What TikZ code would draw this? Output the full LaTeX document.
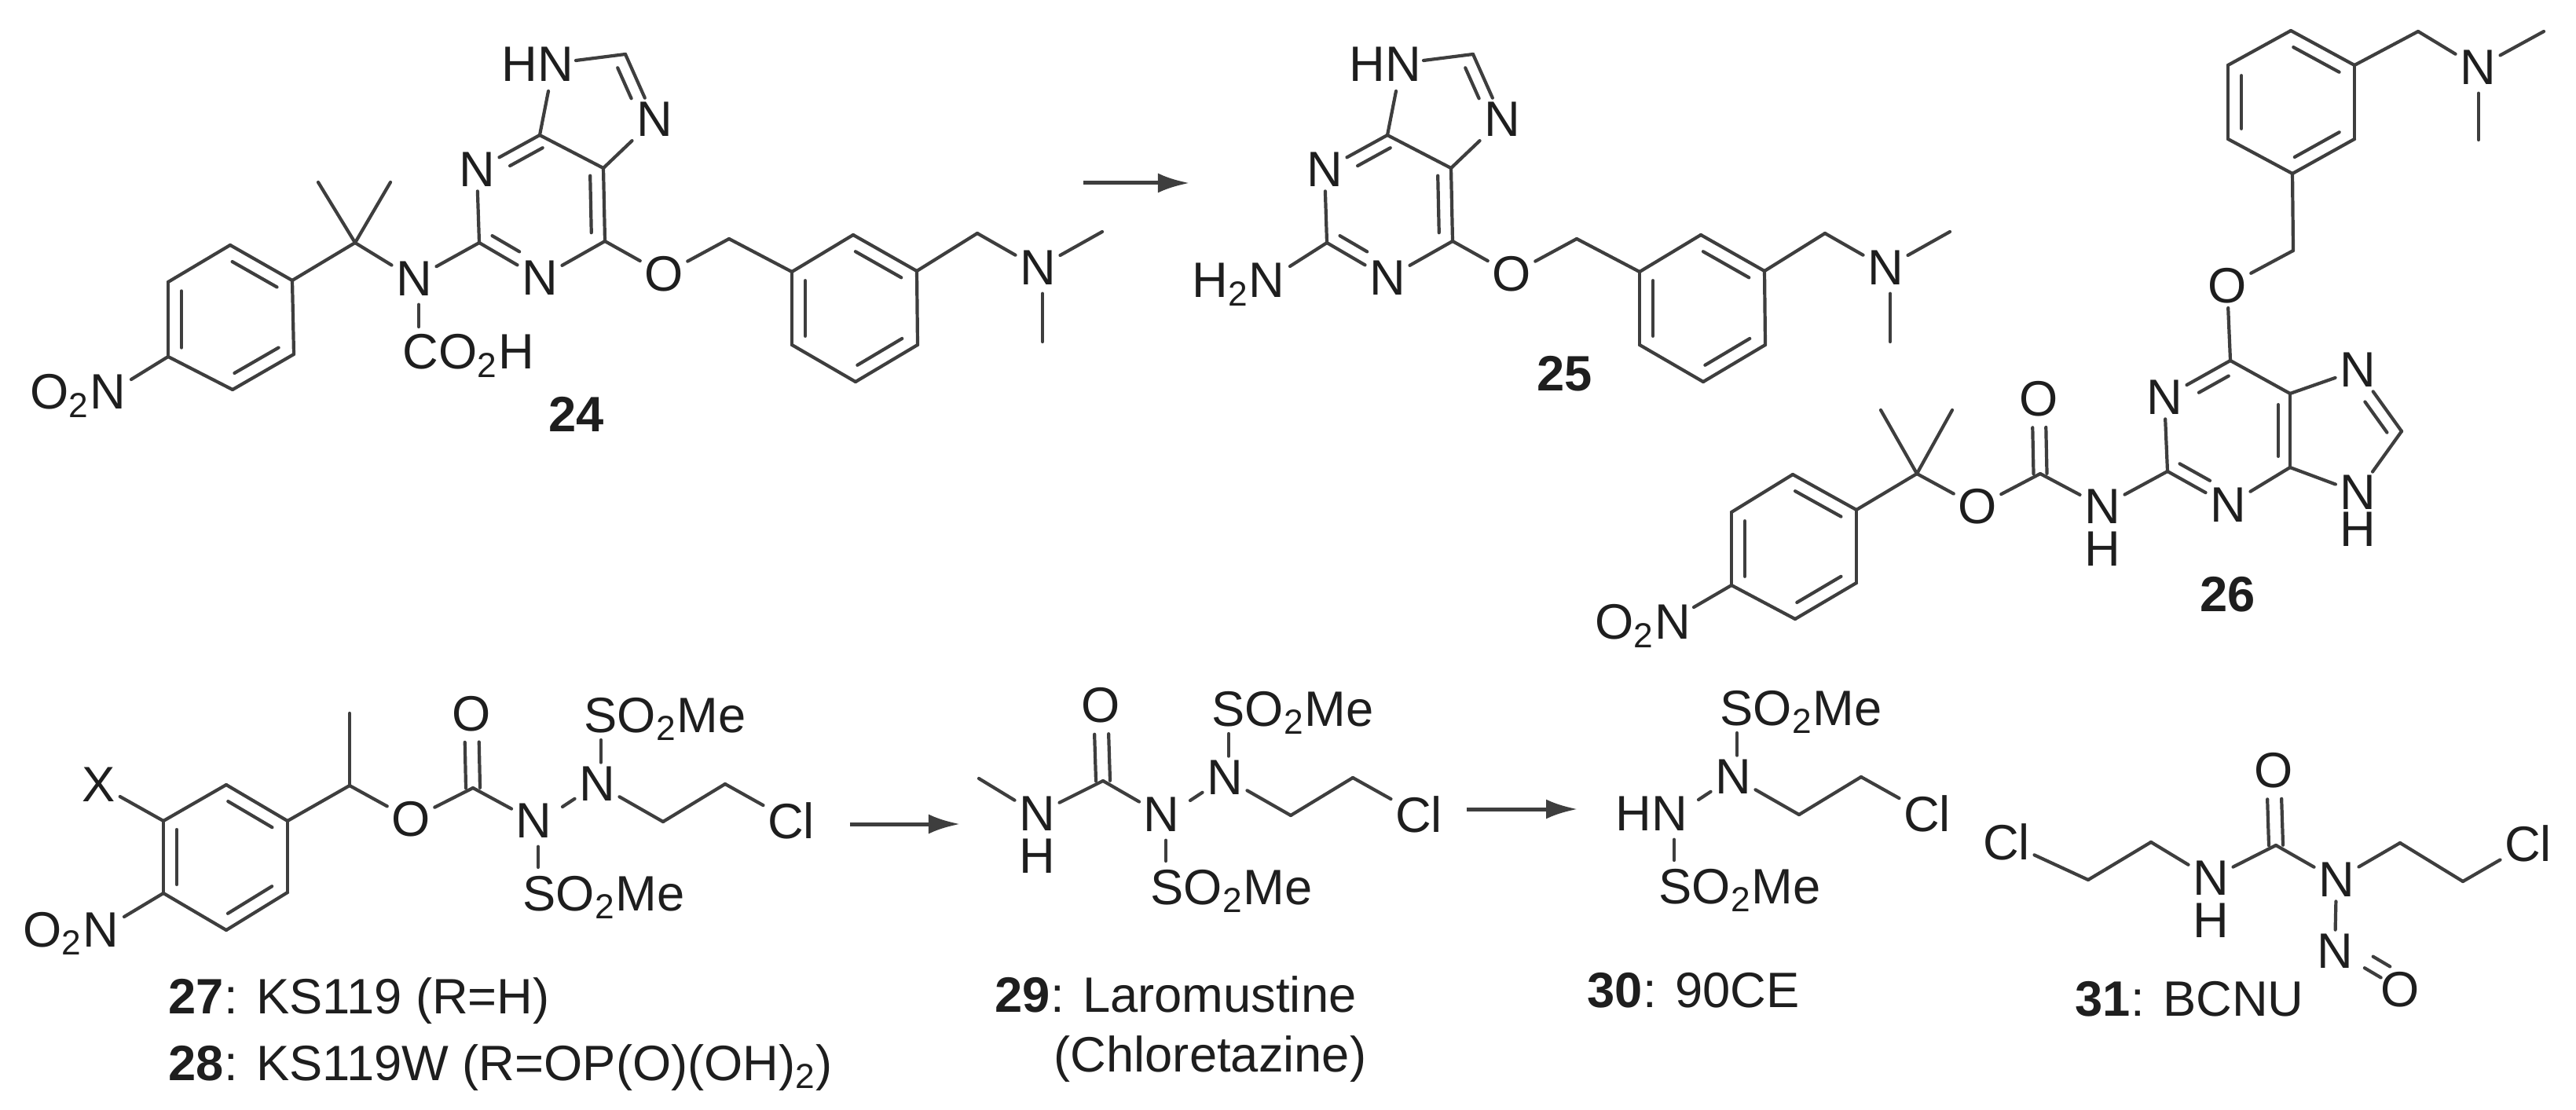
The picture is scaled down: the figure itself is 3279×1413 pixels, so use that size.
\documentclass[tikz,border=0pt]{standalone}
\usepackage{fontspec}
\setmainfont{Liberation Sans}
\usetikzlibrary{calc,arrows.meta}
\definecolor{bondgray}{RGB}{62,62,62}
\definecolor{inkgray}{RGB}{30,30,30}

\newcommand{\dbl}[5]{\draw[bond] ($(#1)!#3!(#2)!#5!90:(#2)$) -- ($(#1)!#4!(#2)!#5!90:(#2)$);}

\newcommand{\purinearm}{
	\coordinate(C2) at (610,309);
	\coordinate(C4) at (687,172);
	\coordinate(C5) at (768,214);
	\coordinate(C6) at (770,307);
	\coordinate(C8) at (796,69);
	\coordinate(CH2) at (928,304);
	\coordinate(Ra) at (1008,346);
	\coordinate(Rb) at (1086,299);
	\coordinate(Rc) at (1167,345);
	\coordinate(Rd) at (1168,439);
	\coordinate(Re) at (1089,486);
	\coordinate(Rf) at (1008,439);
	\coordinate(CH2n) at (1244,297);
	\coordinate(MeA) at (1403,295);
	\coordinate(MeB) at (1327,435);
	\coordinate(HNa) at (698,116);
	\coordinate(HNb) at (733,77);
	\node(N1) [atom] at (607,216) {N};
	\node(N3) [atom] at (687,354) {N};
	\node(N7) [atom] at (833,152) {N};
	\node(HN) [txt] at (638,104) {HN};
	\node(Oe) [atom] at (845,349) {O};
	\node(NM) [atom] at (1321,341) {N};

	\draw[bond](C2) -- (N1);
	\draw[bond](C2) -- (N3);
	\dbl{C2}{N3}{.11}{.56}{.16cm}
	\draw[bond](N3) -- (C6);
	\draw[bond](C6) -- (C5);
	\dbl{C6}{C5}{.12}{.9}{.17cm}
	\draw[bond](C5) -- (C4);
	\draw[bond](C4) -- (N1);
	\dbl{C4}{N1}{.05}{.57}{.16cm}
	\draw[bond](C4) -- (HNa);
	\draw[bond](HNb) -- (C8);
	\draw[bond](C8) -- (N7);
	\dbl{C8}{N7}{.13}{.6}{-.16cm}
	\draw[bond](N7) -- (C5);
	\draw[bond](C6) -- (Oe);
	\draw[bond](Oe) -- (CH2);
	\draw[bond](CH2) -- (Ra);
	\draw[bond](Ra) -- (Rb);
	\draw[bond](Rb) -- (Rc);
	\draw[bond](Rc) -- (Rd);
	\draw[bond](Rd) -- (Re);
	\draw[bond](Re) -- (Rf);
	\draw[bond](Rf) -- (Ra);
	\dbl{Rb}{Rc}{.14}{.86}{-.17cm}
	\dbl{Rd}{Re}{.14}{.86}{-.17cm}
	\dbl{Rf}{Ra}{.12}{.88}{-.17cm}
	\draw[bond](Rc) -- (CH2n);
	\draw[bond](CH2n) -- (NM);
	\draw[bond](NM) -- (MeA);
	\draw[bond,shorten <=1.5pt](NM.south -| MeB) -- (MeB);
}

\newcommand{\sulfochain}[1]{
	\coordinate(NNa) at (36,-18);
	\coordinate(Sa) at (85,-103);
	\coordinate(Sb) at (5,59);
	\coordinate(Ca) at (164,1);
	\coordinate(Cb) at (243,-47);
	\node(N1) [atom,anchor=east] at (28,0) {#1};
	\node(N2) [atom] at (80,-47) {N};
	\node(Cl) [atom] at (327,0) {Cl};
	\node(SOa) [txt] at (63,-113) {SO\textsubscript{2}Me};
	\node(SOb) [txt] at (-15,114) {SO\textsubscript{2}Me};

	\draw[bond](NNa) -- (N2);
	\draw[bond](N2.north -| Sa) -- (Sa);
	\draw[bond,shorten <=1.5pt](N1.south -| Sb) -- (Sb);
	\draw[bond](N2) -- (Ca);
	\draw[bond](Ca) -- (Cb);
	\draw[bond](Cb) -- (Cl);
}

\begin{document}
\begin{tikzpicture}[x=.01cm,y=-.01cm,node distance=.54cm,
	atom/.style={font=\fontsize{18}{20}\selectfont,text=inkgray,inner sep=1.4pt},
	hatom/.style={atom,inner sep=0pt},
	txt/.style={font=\fontsize{18}{20}\selectfont,text=inkgray,inner sep=0pt,anchor=base west},
	bond/.style={draw=bondgray,line width=.042cm,line cap=round},
	rxn/.style={draw=bondgray,line width=.05cm,-{Latex[length=.4cm,width=.25cm]}}]
	\useasboundingbox (0,0) rectangle (3279,1413);

	\begin{scope}[name prefix=a-]
		\purinearm
	\end{scope}
	\begin{scope}[shift={(1079,0)},name prefix=b-]
		\purinearm
	\end{scope}

	\coordinate(Pa) at (293,312);
	\coordinate(Pb) at (372,357);
	\coordinate(Pc) at (374,451);
	\coordinate(Pd) at (296,496);
	\coordinate(Pe) at (214,454);
	\coordinate(Pf) at (214,359);
	\coordinate(Cq) at (452,309);
	\coordinate(Mq) at (405,232);
	\coordinate(Mr) at (497,232);
	\coordinate(NOa) at (167,483);
	\coordinate(COa) at (533,416);
	\coordinate(NHb) at (1642,339);
	\coordinate(ArA) at (1379,233);
	\coordinate(ArB) at (1514,233);
	\node(Nc) [atom] at (527,355) {N};
	\node(CO2H) [txt] at (512,470) {CO\textsubscript{2}H};
	\node(O2Na) [txt] at (38,521) {O\textsubscript{2}N};
	\node(H2N) [txt] at (1517,379) {H\textsubscript{2}N};
	\node(L24) [txt] at (698,550) {\textbf{24}};
	\node(L25) [txt] at (1956,498) {\textbf{25}};

	\draw[bond](Pa) -- (Pb);
	\draw[bond](Pb) -- (Pc);
	\draw[bond](Pc) -- (Pd);
	\draw[bond](Pd) -- (Pe);
	\draw[bond](Pe) -- (Pf);
	\draw[bond](Pf) -- (Pa);
	\dbl{Pa}{Pb}{.14}{.86}{-.17cm}
	\dbl{Pc}{Pd}{.14}{.86}{-.17cm}
	\dbl{Pe}{Pf}{.12}{.88}{-.17cm}
	\draw[bond](Pe) -- (NOa);
	\draw[bond](Pb) -- (Cq);
	\draw[bond](Cq) -- (Mq);
	\draw[bond](Cq) -- (Mr);
	\draw[bond](Cq) -- (Nc);
	\draw[bond](Nc) -- (a-C2);
	\draw[bond,shorten <=1.5pt](Nc.south -| COa) -- (COa);
	\draw[bond](b-C2) -- (NHb);
	\draw[rxn](ArA) -- (ArB);

	\coordinate(Qa) at (2282,604);
	\coordinate(Qb) at (2363,649);
	\coordinate(Qc) at (2363,742);
	\coordinate(Qd) at (2285,788);
	\coordinate(Qe) at (2204,745);
	\coordinate(Qf) at (2204,652);
	\coordinate(Dq) at (2440,603);
	\coordinate(Dm) at (2394,522);
	\coordinate(Dn) at (2485,522);
	\coordinate(Dc) at (2597,603);
	\coordinate(Gb) at (2759,600);
	\coordinate(Gf) at (2839,459);
	\coordinate(Ge) at (2915,501);
	\coordinate(Gd) at (2915,595);
	\coordinate(Gh) at (3057,549);
	\coordinate(CH2o) at (2919,319);
	\coordinate(Ua) at (2918,221);
	\coordinate(Ub) at (2997,177);
	\coordinate(Uc) at (2997,83);
	\coordinate(Ud) at (2916,39);
	\coordinate(Ue) at (2836,83);
	\coordinate(Uf) at (2836,177);
	\coordinate(CH2m) at (3078,40);
	\coordinate(Va) at (3238,40);
	\coordinate(Vb) at (3155,178);
	\coordinate(NOb) at (2156,773);
	\node(O2Nb) [txt] at (2030,814) {O\textsubscript{2}N};
	\node(Oc) [atom] at (2517,645) {O};
	\node(Od) [atom] at (2595,508) {O};
	\node(Nh) [atom] at (2676,645) {N};
	\node(Hh) [hatom,below of=Nh] {H};
	\node(Gn1) [atom] at (2755,506) {N};
	\node(Gn3) [atom] at (2836,643) {N};
	\node(Gn7) [atom] at (3001,471) {N};
	\node(Gn9) [hatom] at (3001,627) {N};
	\node(Hg) [hatom,below of=Gn9,node distance=.47cm] {H};
	\node(Og) [atom] at (2835,364) {O};
	\node(Nu) [atom] at (3154,86) {N};
	\node(L26) [txt] at (2800,778) {\textbf{26}};

	\draw[bond](Qa) -- (Qb);
	\draw[bond](Qb) -- (Qc);
	\draw[bond](Qc) -- (Qd);
	\draw[bond](Qd) -- (Qe);
	\draw[bond](Qe) -- (Qf);
	\draw[bond](Qf) -- (Qa);
	\dbl{Qa}{Qb}{.14}{.86}{-.17cm}
	\dbl{Qc}{Qd}{.14}{.86}{-.17cm}
	\dbl{Qe}{Qf}{.12}{.88}{-.17cm}
	\draw[bond](Qe) -- (NOb);
	\draw[bond](Qb) -- (Dq);
	\draw[bond](Dq) -- (Dm);
	\draw[bond](Dq) -- (Dn);
	\draw[bond](Dq) -- (Oc);
	\draw[bond](Oc) -- (Dc);
	\dbl{Dc}{Od}{.0}{.62}{.085cm}
	\dbl{Dc}{Od}{.0}{.62}{-.085cm}
	\draw[bond](Dc) -- (Nh);
	\draw[bond](Nh) -- (Gb);
	\draw[bond](Gb) -- (Gn3);
	\dbl{Gb}{Gn3}{.1}{.6}{.16cm}
	\draw[bond](Gn3) -- (Gd);
	\draw[bond](Gd) -- (Ge);
	\dbl{Gd}{Ge}{.15}{.85}{.15cm}
	\draw[bond](Ge) -- (Gf);
	\draw[bond](Gf) -- (Gn1);
	\dbl{Gf}{Gn1}{.12}{.57}{.16cm}
	\draw[bond](Gn1) -- (Gb);
	\draw[bond](Ge) -- (Gn7);
	\draw[bond](Gn7) -- (Gh);
	\dbl{Gh}{Gn7}{.1}{.6}{.16cm}
	\draw[bond,shorten >=1.4pt](Gh) -- (Gn9);
	\draw[bond,shorten <=1.4pt](Gn9) -- (Gd);
	\draw[bond](Gf) -- (Og);
	\draw[bond](Og) -- (CH2o);
	\draw[bond](CH2o) -- (Ua);
	\draw[bond](Ua) -- (Ub);
	\draw[bond](Ub) -- (Uc);
	\draw[bond](Uc) -- (Ud);
	\draw[bond](Ud) -- (Ue);
	\draw[bond](Ue) -- (Uf);
	\draw[bond](Uf) -- (Ua);
	\dbl{Ua}{Ub}{.14}{.86}{.17cm}
	\dbl{Uc}{Ud}{.14}{.86}{.17cm}
	\dbl{Ue}{Uf}{.14}{.86}{.17cm}
	\draw[bond](Uc) -- (CH2m);
	\draw[bond](CH2m) -- (Nu);
	\draw[bond](Nu) -- (Va);
	\draw[bond,shorten <=1.5pt](Nu.south -| Vb) -- (Vb);

	\begin{scope}[shift={(680,1045)},name prefix=c-]
		\sulfochain{N}
	\end{scope}
	\begin{scope}[shift={(1479,1037)},name prefix=d-]
		\sulfochain{N}
	\end{scope}
	\begin{scope}[shift={(2126,1036)},name prefix=e-]
		\sulfochain{HN}
	\end{scope}

	\coordinate(Ta) at (288,999);
	\coordinate(Tb) at (366,1045);
	\coordinate(Tc) at (366,1136);
	\coordinate(Td) at (288,1184);
	\coordinate(Te) at (208,1137);
	\coordinate(Tf) at (208,1045);
	\coordinate(NOc) at (158,1167);
	\coordinate(CHa) at (445,1000);
	\coordinate(Mea) at (445,908);
	\coordinate(Cca) at (602,1003);
	\node(X) [atom] at (126,999) {X};
	\node(O2Nc) [txt] at (29,1205) {O\textsubscript{2}N};
	\node(Oa) [atom] at (523,1043) {O};
	\node(Ob) [atom] at (600,909) {O};
	\node(L27) [txt] at (214,1290) {\textbf{27}: KS119 (R=H)};
	\node(L28) [txt] at (214,1375) {\textbf{28}: KS119W (R=OP(O)(OH)\textsubscript{2})};

	\draw[bond](Ta) -- (Tb);
	\draw[bond](Tb) -- (Tc);
	\draw[bond](Tc) -- (Td);
	\draw[bond](Td) -- (Te);
	\draw[bond](Te) -- (Tf);
	\draw[bond](Tf) -- (Ta);
	\dbl{Ta}{Tb}{.14}{.86}{-.17cm}
	\dbl{Tc}{Td}{.14}{.86}{-.17cm}
	\dbl{Te}{Tf}{.12}{.88}{-.17cm}
	\draw[bond](Tf) -- (X);
	\draw[bond](Te) -- (NOc);
	\draw[bond](Tb) -- (CHa);
	\draw[bond](CHa) -- (Mea);
	\draw[bond](CHa) -- (Oa);
	\draw[bond](Oa) -- (Cca);
	\dbl{Cca}{Ob}{.0}{.62}{.09cm}
	\dbl{Cca}{Ob}{.0}{.62}{-.09cm}
	\draw[bond](Cca) -- (c-N1);

	\coordinate(ArC) at (1082,1049);
	\coordinate(ArD) at (1222,1049);
	\coordinate(ArE) at (1867,1030);
	\coordinate(ArF) at (2008,1030);
	\coordinate(Meb) at (1246,991);
	\coordinate(Ccb) at (1404,994);
	\node(Nm) [atom] at (1320,1036) {N};
	\node(Hm) [hatom,below of=Nm] {H};
	\node(Ob2) [atom] at (1401,898) {O};
	\node(L29) [txt] at (1266,1288) {\textbf{29}: Laromustine};
	\node(L29b) [txt] at (1341,1364) {(Chloretazine)};
	\node(L30) [txt] at (2020,1282) {\textbf{30}: 90CE};

	\draw[rxn](ArC) -- (ArD);
	\draw[rxn](ArE) -- (ArF);
	\draw[bond](Meb) -- (Nm);
	\draw[bond](Nm) -- (Ccb);
	\dbl{Ccb}{Ob2}{.0}{.62}{.09cm}
	\dbl{Ccb}{Ob2}{.0}{.62}{-.09cm}
	\draw[bond](Ccb) -- (d-N1);

	\coordinate(Ba) at (2658,1120);
	\coordinate(Bb) at (2738,1072);
	\coordinate(Bc) at (2897,1076);
	\coordinate(Bd) at (3055,1073);
	\coordinate(Be) at (3135,1122);
	\node(ClL) [atom] at (2554,1072) {Cl};
	\node(Nb) [atom] at (2814,1118) {N};
	\node(Hb) [hatom,below of=Nb] {H};
	\node(Ox) [atom] at (2894,981) {O};
	\node(Nd) [atom] at (2974,1120) {N};
	\node(ClR) [atom] at (3218,1074) {Cl};
	\node(Nn) [atom] at (2972,1211) {N};
	\node(On) [hatom] at (3055,1260) {O};
	\node(L31) [txt] at (2641,1293) {\textbf{31}: BCNU};

	\draw[bond](ClL) -- (Ba);
	\draw[bond](Ba) -- (Bb);
	\draw[bond](Bb) -- (Nb);
	\draw[bond](Nb) -- (Bc);
	\dbl{Bc}{Ox}{.0}{.62}{.09cm}
	\dbl{Bc}{Ox}{.0}{.62}{-.09cm}
	\draw[bond](Bc) -- (Nd);
	\draw[bond](Nd) -- (Bd);
	\draw[bond](Bd) -- (Be);
	\draw[bond](Be) -- (ClR);
	\draw[bond](Nd) -- (Nn);
	\dbl{Nn}{On}{.47}{.73}{.19cm}
	\dbl{Nn}{On}{.45}{.70}{.01cm}
\end{tikzpicture}
\end{document}
